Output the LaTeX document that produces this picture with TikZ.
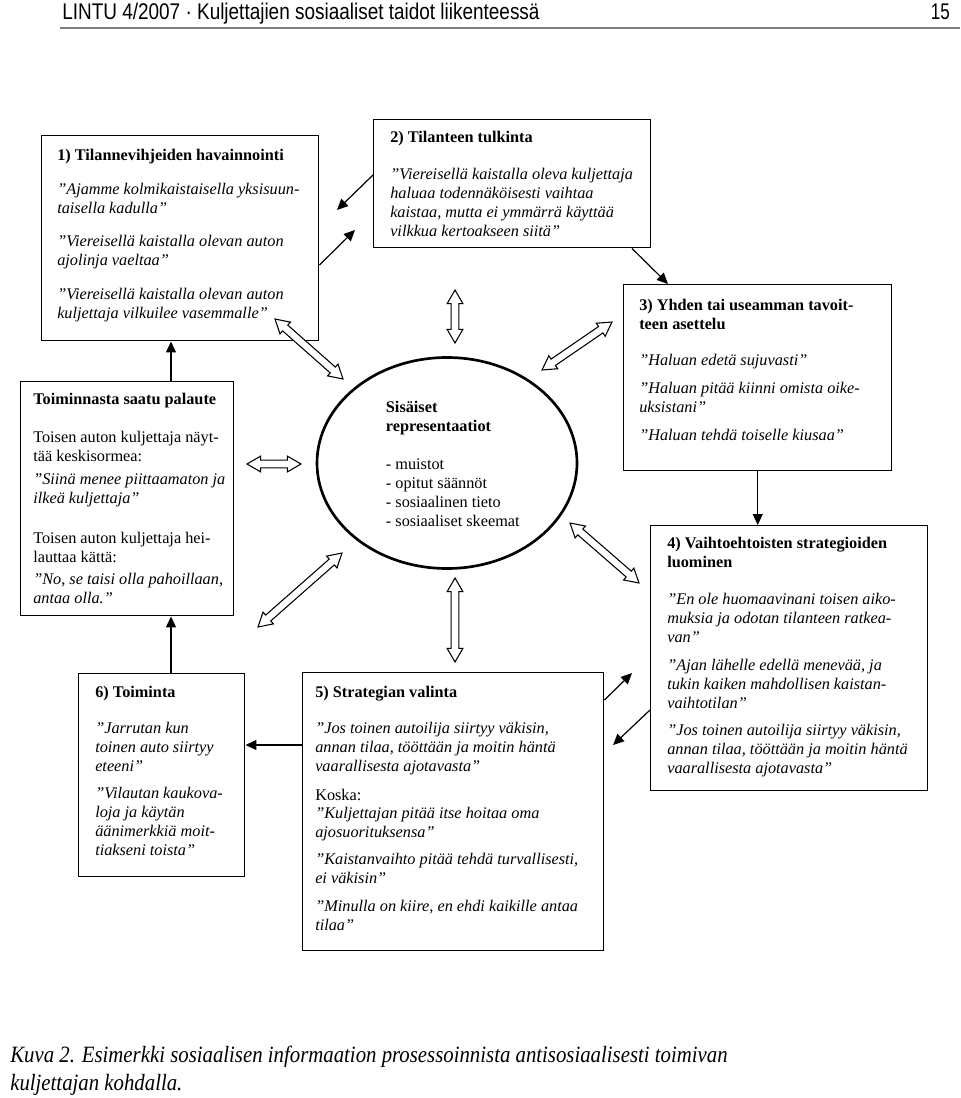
\documentclass[tikz,border=0pt]{standalone}
\usepackage{fontspec}
\setmainfont{Liberation Serif}
\newfontfamily\headfont{Liberation Sans}
\usepackage{graphicx}
\usetikzlibrary{shapes, arrows.meta, calc}
\newlength\px
\setlength\px{0.75pt}
% hollow two-way arrow between two points
\newcommand\twoway[2]{\path let \p1=($(#2)-(#1)$), \n1={veclen(\x1,\y1)} in (#1) -- (#2) node[hollow, midway, minimum height=\n1] {};}

\begin{document}
\begin{tikzpicture}[x=0.75pt, y=-0.75pt]
    \tikzstyle{panel}=[draw, line width=1.1pt, anchor=north west, inner sep=0pt]
    \tikzstyle{txt}=[anchor=north west, inner sep=0pt, align=left, font=\fontsize{12.2}{14.25}\selectfont]
    \tikzstyle{arr}=[line width=0.9pt, -{Triangle[length=8.25pt, width=7.5pt]}]
    \tikzstyle{hollow}=[double arrow, draw, line width=0.8pt, fill=white, inner xsep=0pt, inner ysep=2.5pt, double arrow head extend=3pt, double arrow tip angle=60, sloped]

    \useasboundingbox (0,0) rectangle (960,1098);

    % header
    \node[anchor=base west, inner sep=0pt] (head) at (62,20) {\resizebox{358pt}{\height}{\headfont\fontsize{17}{20}\selectfont LINTU 4/2007 · Kuljettajien sosiaaliset taidot liikenteessä}};
    \node[anchor=base east, inner sep=0pt] (page) at (950,20) {\scalebox{0.75}[1]{\headfont\fontsize{17}{20}\selectfont 15}};
    \draw[gray, line width=1.5pt] (60,28) -- (960,28);

    % boxes
    \node[panel, minimum width=277\px, minimum height=205\px] (obs) at (41,135) {};
    \node[txt] at ($(obs.north west)+(16,14)$) {\textbf{1) Tilannevihjeiden havainnointi}\\[11pt]
        \textit{”Ajamme kolmikaistaisella yksisuun-}\\
        \textit{taisella kadulla”}\\[11pt]
        \textit{”Viereisellä kaistalla olevan auton}\\
        \textit{ajolinja vaeltaa”}\\[11pt]
        \textit{”Viereisellä kaistalla olevan auton}\\
        \textit{kuljettaja vilkuilee vasemmalle”}};

    \node[panel, minimum width=277\px, minimum height=128\px] (interp) at (373,119) {};
    \node[txt] at ($(interp.north west)+(17,12)$) {\textbf{2) Tilanteen tulkinta}\\[13.5pt]
        \textit{”Viereisellä kaistalla oleva kuljettaja}\\
        \textit{haluaa todennäköisesti vaihtaa}\\
        \textit{kaistaa, mutta ei ymmärrä käyttää}\\
        \textit{vilkkua kertoakseen siitä”}};

    \node[panel, minimum width=268\px, minimum height=186\px] (goals) at (623,284) {};
    \node[txt] at ($(goals.north west)+(16,15)$) {\textbf{3) Yhden tai useamman tavoit-}\\
        \textbf{teen asettelu}\\[12.75pt]
        \textit{”Haluan edetä sujuvasti”}\\[6.75pt]
        \textit{”Haluan pitää kiinni omista oike-}\\
        \textit{uksistani”}\\[6.75pt]
        \textit{”Haluan tehdä toiselle kiusaa”}};

    \node[panel, minimum width=277\px, minimum height=265\px] (strat) at (650,525) {};
    \node[txt] at ($(strat.north west)+(17,12)$) {\textbf{4) Vaihtoehtoisten strategioiden}\\
        \textbf{luominen}\\[13.5pt]
        \textit{”En ole huomaavinani toisen aiko-}\\
        \textit{muksia ja odotan tilanteen ratkea-}\\
        \textit{van”}\\[6.5pt]
        \textit{”Ajan lähelle edellä menevää, ja}\\
        \textit{tukin kaiken mahdollisen kaistan-}\\
        \textit{vaihtotilan”}\\[6.5pt]
        \textit{”Jos toinen autoilija siirtyy väkisin,}\\
        \textit{annan tilaa, tööttään ja moitin häntä}\\
        \textit{vaarallisesta ajotavasta”}};

    \node[panel, minimum width=213\px, minimum height=234\px] (fb) at (20,381) {};
    \node[txt] at ($(fb.north west)+(13,12)$) {\textbf{Toiminnasta saatu palaute}\\[14pt]
        Toisen auton kuljettaja näyt-\\
        tää keskisormea:\\[3.5pt]
        \textit{”Siinä menee piittaamaton ja}\\
        \textit{ilkeä kuljettaja”}\\[15.75pt]
        Toisen auton kuljettaja hei-\\
        lauttaa kättä:\\[2pt]
        \textit{”No, se taisi olla pahoillaan,}\\
        \textit{antaa olla.”}};

    \node[panel, minimum width=301\px, minimum height=278\px] (choice) at (302,672) {};
    \node[txt] at ($(choice.north west)+(13,14)$) {\textbf{5) Strategian valinta}\\[12.75pt]
        \textit{”Jos toinen autoilija siirtyy väkisin,}\\
        \textit{annan tilaa, tööttään ja moitin häntä}\\
        \textit{vaarallisesta ajotavasta”}\\[7.5pt]
        Koska:\\[-0.75pt]
        \textit{”Kuljettajan pitää itse hoitaa oma}\\
        \textit{ajosuorituksensa”}\\[6pt]
        \textit{”Kaistanvaihto pitää tehdä turvallisesti,}\\
        \textit{ei väkisin”}\\[6.5pt]
        \textit{”Minulla on kiire, en ehdi kaikille antaa}\\
        \textit{tilaa”}};

    \node[panel, minimum width=166\px, minimum height=203\px] (act) at (78,673) {};
    \node[txt] at ($(act.north west)+(17,13)$) {\textbf{6) Toiminta}\\[12.75pt]
        \textit{”Jarrutan kun}\\
        \textit{toinen auto siirtyy}\\
        \textit{eteeni”}\\[6pt]
        \textit{”Vilautan kaukova-}\\
        \textit{loja ja käytän}\\
        \textit{äänimerkkiä moit-}\\
        \textit{tiakseni toista”}};

    % internal representations
    \node[ellipse, draw, line width=2pt, minimum width=260\px, minimum height=211\px] (rep) at (447,463) {};
    \node[txt] at ($(rep.west)+(70,-62)$) {\textbf{Sisäiset}\\
        \textbf{representaatiot}\\[14pt]
        - muistot\\
        - opitut säännöt\\
        - sosiaalinen tieto\\
        - sosiaaliset skeemat};

    % free arrow ends
    \coordinate (t21) at (337,210);
    \coordinate (t12) at (355,230);
    \coordinate (t54) at (632,673);
    \coordinate (t45) at (613,745);
    \coordinate (c6) at ($(choice.north west)+(0,73)$);
    \coordinate (a6) at ($(act.north west)+(93,0)$);

    % process arrows
    \draw[arr] ($(interp.north west)+(0,56)$) -- (t21);
    \draw[arr] ($(obs.north east)+(0,130)$) -- (t12);
    \draw[arr] ($(interp.south west)+(259,0)$) -- ($(goals.north west)+(45,0)$);
    \draw[arr] (goals.south) -- (goals.south |- strat.north);
    \draw[arr] ($(choice.north east)+(0,28)$) -- (t54);
    \draw[arr] ($(strat.north west)+(0,185)$) -- (t45);
    \draw[arr] (c6) -- (c6 -| act.east);
    \draw[arr] (a6) -- (a6 |- fb.south);
    \draw[arr] (a6 |- fb.north) -- (a6 |- obs.south);

    % two-way arrows to the representations
    \coordinate (h1a) at (275,319); \coordinate (h1b) at (343,379);
    \coordinate (h2a) at (455,290); \coordinate (h2b) at (455,343);
    \coordinate (h3a) at (542,370); \coordinate (h3b) at (612,322);
    \coordinate (h4a) at (570,523); \coordinate (h4b) at (639,583);
    \coordinate (h5a) at (455,578); \coordinate (h5b) at (455,662);
    \coordinate (h6a) at (258,627); \coordinate (h6b) at (342,553);
    \coordinate (h7a) at (247,464); \coordinate (h7b) at (301,464);
    \twoway{h1a}{h1b}
    \twoway{h2a}{h2b}
    \twoway{h3a}{h3b}
    \twoway{h4a}{h4b}
    \twoway{h5a}{h5b}
    \twoway{h6a}{h6b}
    \twoway{h7a}{h7b}

    % caption
    \node[anchor=base west, inner sep=0pt] (cap) at (10,1062) {\resizebox{538pt}{\height}{\fontsize{17.5}{21}\selectfont\itshape\begin{tabular}[t]{@{}l@{}}Kuva 2. Esimerkki sosiaalisen informaation prosessoinnista antisosiaalisesti toimivan\\kuljettajan kohdalla.\end{tabular}}};
\end{tikzpicture}
\end{document}
